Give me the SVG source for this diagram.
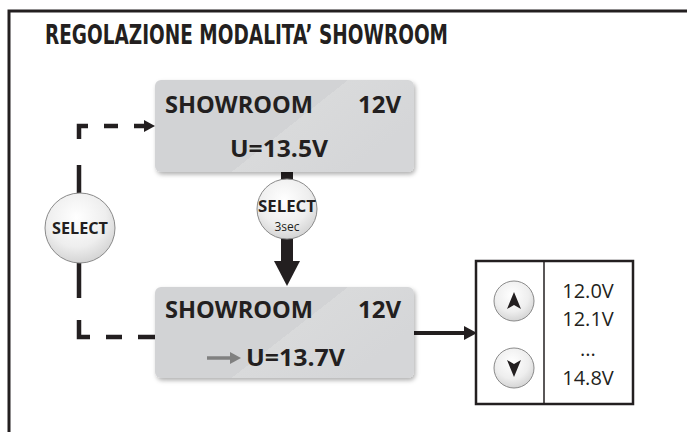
<svg xmlns="http://www.w3.org/2000/svg" width="687" height="432" viewBox="0 0 687 432">
<defs>
<style>
.h{font-family:"DejaVu Sans","Liberation Sans",sans-serif;font-weight:bold;fill:#231f20}
.t{font-family:"Open Sans","Liberation Sans",sans-serif;font-weight:700;fill:#231f20}
.b{font-family:"Open Sans","Liberation Sans",sans-serif;font-weight:700;fill:#231f20}
.r{font-family:"Open Sans","Liberation Sans",sans-serif;fill:#231f20}
.lcd{fill:url(#lcdg);filter:url(#sh)}
.btn{fill:url(#btng);stroke:#8a8a8a;stroke-width:1}
.dash{fill:none;stroke:#231f20;stroke-width:4.5}
</style>
<linearGradient id="lcdg" x1="0" y1="0" x2="1" y2="0.45">
<stop offset="0" stop-color="#d2d3d5"/>
<stop offset="0.62" stop-color="#d2d3d5"/>
<stop offset="0.62" stop-color="#d9dadb"/>
<stop offset="1" stop-color="#d5d6d8"/>
</linearGradient>
<radialGradient id="btng" cx="0.45" cy="0.35" r="0.7">
<stop offset="0" stop-color="#ffffff"/>
<stop offset="0.6" stop-color="#eeeeee"/>
<stop offset="1" stop-color="#cfcfcf"/>
</radialGradient>
<filter id="sh" x="-10%" y="-10%" width="125%" height="130%">
<feDropShadow dx="1.5" dy="2.5" stdDeviation="2" flood-color="#000" flood-opacity="0.3"/>
</filter>
</defs>
<rect width="687" height="432" fill="#fff"/>
<g id="frame">
<path d="M9,432 V11 H687" fill="none" stroke="#231f20" stroke-width="3"/>
</g>
<text class="h" x="45" y="44" font-size="26" textLength="403" lengthAdjust="spacingAndGlyphs">REGOLAZIONE MODALITA’ SHOWROOM</text>
<g id="connectors">
<path class="dash" d="M79,139 V126 H88 M104,126 H118 M134,126 H146" />
<path d="M144,120 L155,126 L144,132 z" fill="#231f20"/>
<path class="dash" d="M79,165 V193 M79,263 V298 M79,320 V337 H90 M106,337 H122 M138,337 H155"/>
<rect x="281" y="172" width="12" height="12" fill="#231f20"/>
<rect x="281" y="236" width="12" height="28" fill="#231f20"/>
<path d="M274,261 L300,261 L287,286 z" fill="#231f20"/>
<path d="M414,333 H466" stroke="#231f20" stroke-width="4"/>
<path d="M464,326 L477,333 L464,340 z" fill="#231f20"/>
</g>
<g id="lcd-top">
<rect class="lcd" x="155" y="80" width="259" height="92" rx="6"/>
<text class="t" x="165" y="113" font-size="24" textLength="148" lengthAdjust="spacingAndGlyphs">SHOWROOM</text>
<text class="t" x="401" y="113" font-size="24" text-anchor="end">12V</text>
<text class="t" x="279" y="157" font-size="24" text-anchor="middle" textLength="98" lengthAdjust="spacingAndGlyphs">U=13.5V</text>
</g>
<g id="lcd-bottom">
<rect class="lcd" x="155" y="287" width="259" height="91" rx="6"/>
<text class="t" x="165" y="318" font-size="24" textLength="148" lengthAdjust="spacingAndGlyphs">SHOWROOM</text>
<text class="t" x="401" y="318" font-size="24" text-anchor="end">12V</text>
<path d="M207,358 H232" stroke="#808080" stroke-width="3.5"/>
<path d="M230,352 L241,358 L230,364 z" fill="#808080"/>
<text class="t" x="246" y="366" font-size="24" textLength="99" lengthAdjust="spacingAndGlyphs">U=13.7V</text>
</g>
<g id="select-left">
<circle class="btn" cx="80" cy="228" r="35"/>
<text class="b" x="80" y="234" font-size="16" text-anchor="middle" textLength="56" lengthAdjust="spacingAndGlyphs">SELECT</text>
</g>
<g id="select-3sec">
<circle class="btn" cx="287" cy="209" r="30"/>
<text class="b" x="287" y="212" font-size="16" text-anchor="middle" textLength="58" lengthAdjust="spacingAndGlyphs">SELECT</text>
<text class="r" x="287" y="231" font-size="12" text-anchor="middle">3sec</text>
</g>
<g id="panel">
<rect x="476" y="261" width="157" height="143" fill="#fff" stroke="#231f20" stroke-width="2.5"/>
<line x1="544" y1="261" x2="544" y2="404" stroke="#231f20" stroke-width="1.5"/>
<circle class="btn" cx="514" cy="301" r="20"/>
<path d="M514,292 L521,309 L514,305 L507,309 z" fill="#231f20"/>
<circle class="btn" cx="514" cy="368" r="20"/>
<path d="M514,377 L521,360 L514,364 L507,360 z" fill="#231f20"/>
<text class="r" x="588" y="298" font-size="20" text-anchor="middle">12.0V</text>
<text class="r" x="588" y="326" font-size="20" text-anchor="middle">12.1V</text>
<text class="r" x="588" y="356" font-size="20" text-anchor="middle">...</text>
<text class="r" x="588" y="385" font-size="20" text-anchor="middle">14.8V</text>
</g>
</svg>
